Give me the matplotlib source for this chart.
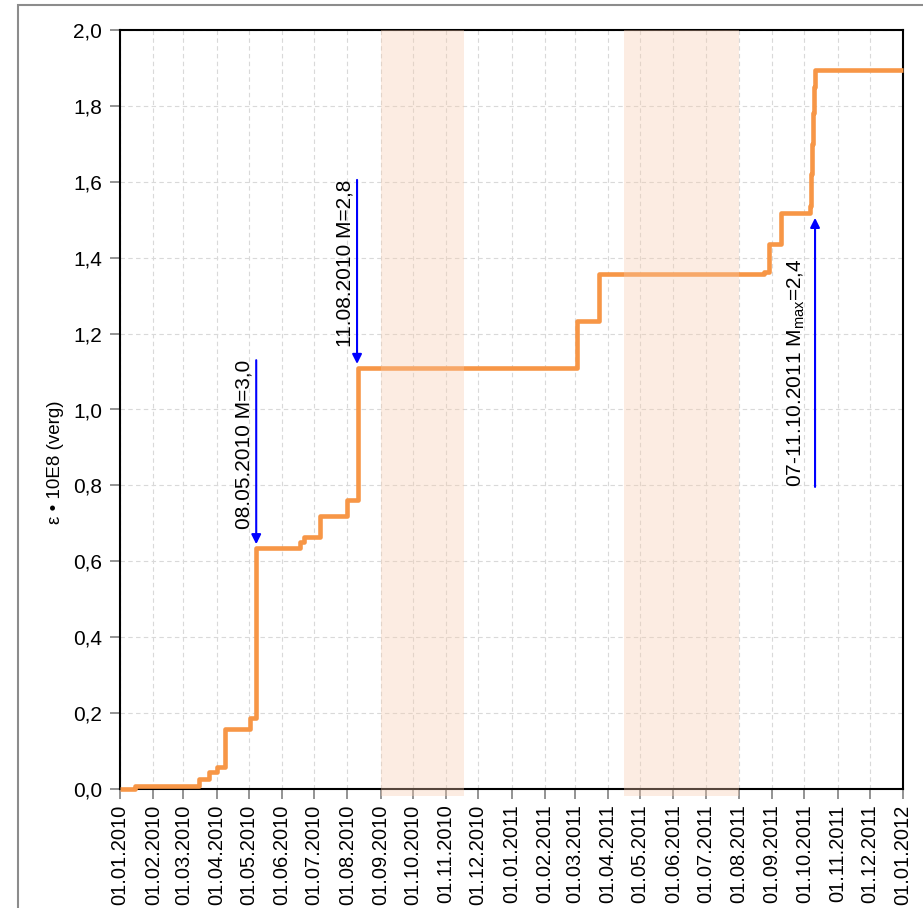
import datetime as dt

import matplotlib
matplotlib.use("Agg")
import matplotlib.pyplot as plt
import matplotlib.dates as mdates
import matplotlib.patches as patches
import matplotlib.transforms as mtransforms
from matplotlib.ticker import FuncFormatter, MultipleLocator

plt.rcParams["font.family"] = ["Liberation Sans", "DejaVu Sans"]
plt.rcParams["mathtext.default"] = "regular"

# cumulative strain release, step changes (date, value after the step)
step_dates = ["01.01.2010", "15.01.2010", "16.03.2010", "25.03.2010", "01.04.2010",
              "09.04.2010", "02.05.2010", "08.05.2010", "18.06.2010", "22.06.2010",
              "06.07.2010", "01.08.2010", "11.08.2010", "03.03.2011", "24.03.2011",
              "24.08.2011", "29.08.2011", "09.09.2011", "06.10.2011", "07.10.2011",
              "08.10.2011", "09.10.2011", "10.10.2011", "11.10.2011", "01.01.2012"]
strain = [0.0, 0.008, 0.026, 0.044, 0.057,
          0.158, 0.188, 0.635, 0.651, 0.665,
          0.719, 0.762, 1.110, 1.233, 1.356,
          1.362, 1.435, 1.517, 1.537, 1.62,
          1.70, 1.78, 1.85, 1.895, 1.895]

# shaded periods
shade_periods = [("01.09.2010", "18.11.2010"), ("16.04.2011", "01.08.2011")]

# events: (date, arrow start, arrow tip, label)
events = [
    ("08.05.2010", 1.13, 0.645, "08.05.2010 M=3,0"),
    ("10.08.2010", 1.605, 1.12, "11.08.2010 M=2,8"),
    ("11.10.2011", 0.796, 1.505, "07-11.10.2011 $M_{max}$=2,4"),
]
label_shift_px = [-12, -12, -19]


def d(s):
    return dt.datetime.strptime(s, "%d.%m.%Y")


fig = plt.figure(figsize=(9.23, 9.08), dpi=100)
ax = fig.add_axes([120 / 923, 1 - 789 / 908, (903 - 120) / 923, (789 - 30) / 908])

x = [d(s) for s in step_dates]
ax.step(x, strain, where="post", color="#F79646", lw=3.3, zorder=2.6,
        clip_on=False, solid_capstyle="butt")

for a, b in shade_periods:
    ax.axvspan(d(a), d(b), ymin=-0.009, ymax=1, color="#F8CBAD", alpha=0.35,
               lw=0, zorder=3, clip_on=False)

for (ds, y0, y1, txt), shift in zip(events, label_shift_px):
    ax.annotate("", xy=(d(ds), y1), xytext=(d(ds), y0),
                arrowprops=dict(arrowstyle="-|>", color="blue", lw=1.5,
                                mutation_scale=14, shrinkA=0, shrinkB=0), zorder=4)
    tr = mtransforms.offset_copy(ax.transData, fig=fig, x=shift, y=0, units="dots")
    va = "bottom" if y1 > y0 else "top"
    ax.text(d(ds), y0, txt, rotation=90, ha="center", va=va, fontsize=15,
            transform=tr, zorder=4)

ax.set_xlim(d("01.01.2010"), d("01.01.2012"))
ax.set_ylim(0, 2.0)
ax.xaxis.set_major_locator(mdates.MonthLocator())
ax.xaxis.set_major_formatter(mdates.DateFormatter("%d.%m.%Y"))
ax.yaxis.set_major_locator(MultipleLocator(0.2))
ax.yaxis.set_major_formatter(FuncFormatter(lambda v, p: f"{v:.1f}".replace(".", ",")))
plt.setp(ax.get_xticklabels(), rotation=90)
ax.tick_params(axis="x", labelsize=14.5, length=7, color="#808080", width=1.2, pad=4)
ax.tick_params(axis="y", labelsize=15, length=7, color="#808080", width=1.2, pad=6)

ax.grid(True, ls=(0, (4, 3)), color="#d9d9d9", lw=0.8, zorder=0)
ax.set_axisbelow(True)
for sp in ax.spines.values():
    sp.set_color("black")
    sp.set_linewidth(1.5)

ax.set_ylabel("ε • 10E8 (verg)", fontsize=13.5)
ax.yaxis.set_label_coords(-0.072, 0.43)

# outer frame
fig.patches.append(patches.Rectangle((18 / 923, -0.1), 1.2, 0.1 + 1 - 5 / 908,
                                     transform=fig.transFigure, fill=False,
                                     edgecolor="#8c8c8c", lw=1.5))

fig.savefig("out.png", dpi=100)
